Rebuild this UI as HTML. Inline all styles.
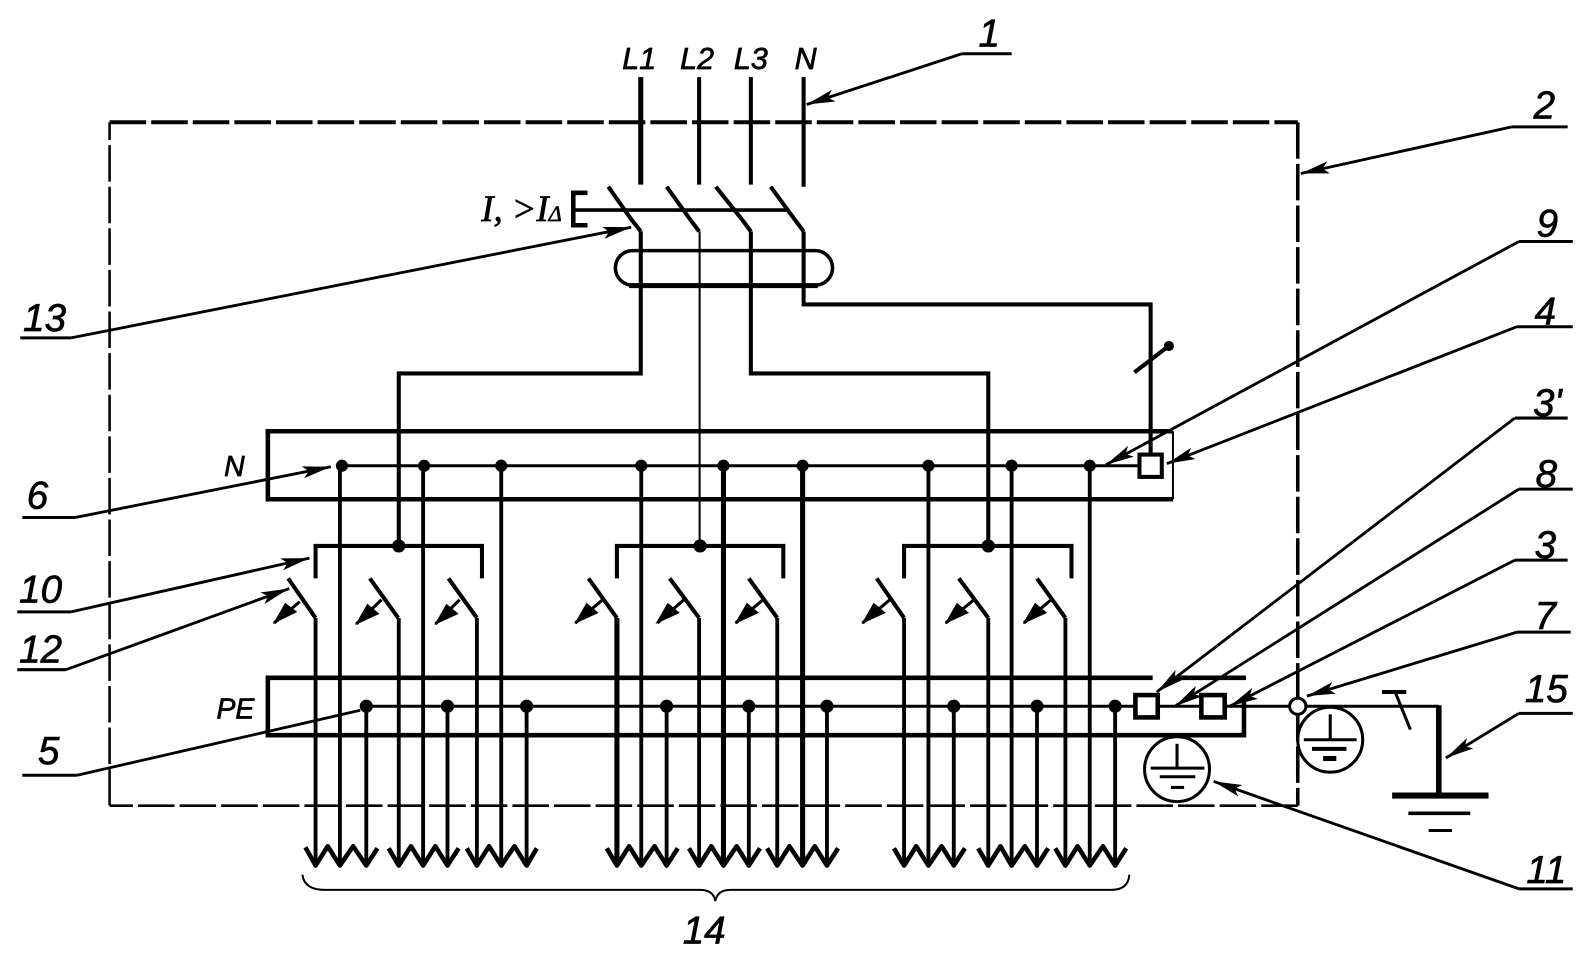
<!DOCTYPE html>
<html><head><meta charset="utf-8"><style>
html,body{margin:0;padding:0;background:#fff}
svg{display:block}
text{font-family:"Liberation Sans",sans-serif;font-style:italic;fill:#000;stroke:#000;stroke-width:.7px;text-anchor:middle}
</style></head><body>
<svg width="1591" height="966" viewBox="0 0 1568 952" preserveAspectRatio="none" xmlns="http://www.w3.org/2000/svg">
<defs><marker id="a" markerUnits="userSpaceOnUse" markerWidth="30" markerHeight="14" refX="28" refY="7" orient="auto"><path d="M0 1L28 7L0 13L6 7Z" fill="#000"/></marker></defs>
<rect width="1568" height="952" fill="#fff"/>
<g fill="none" stroke="#000" stroke-linecap="butt">
<!-- frame -->
<path d="M108 120.5H1279" stroke-width="4" stroke-dasharray="36 5"/>
<path d="M1279 120.5V794" stroke-width="3.5" stroke-dasharray="36 5"/>
<path d="M1279 794H108" stroke-width="2.500" stroke-dasharray="36 5"/>
<path d="M108 794V120.5" stroke-width="2.5" stroke-dasharray="36 5"/>
<!-- feeders -->
<path d="M631.5 76V182" stroke-width="5"/>
<path d="M689 76V182M740 76V182M792 76V184" stroke-width="4"/>
<path d="M599.5 184L622 216L631.5 228M657 184L680 216L689 228M705.500 184L731 216L740 228M759.500 184L783 216L792 228" stroke-width="4"/>
<path d="M579 190H565V222H579" stroke-width="4.500"/>
<path d="M565 207H775" stroke-width="3.500"/>
<path d="M631.500 228V368H393V538M740 228V368H974V538" stroke-width="4"/>
<path d="M689.500 228V538" stroke-width="2"/>
<path d="M792 228V300H1134V448" stroke-width="4"/>
<path d="M1118 367L1153 340" stroke-width="4"/>
<rect x="606.500" y="247" width="214" height="34" rx="17" stroke-width="3.500" />
<path d="M620 281.500H806" stroke-width="5"/>
<!-- busbars -->
<path d="M1156 425H264V492H1156" stroke-width="4.500"/>
<path d="M1156 425V492" stroke-width="2"/>
<path d="M337 459H1123" stroke-width="3"/>
<path d="M1136 668H264V724.500H1226V692M1158 668H1228" stroke-width="4.500"/>
<path d="M361 696H1418" stroke-width="3"/>
<!-- group brackets -->
<path d="M311 570V538H475V570M608 570V538H772V570M891 570V538H1056V570" stroke-width="4"/>
<!-- blades -->
<path d="M284 570L311 609M364.500 570L392.500 609M442 570L470 609M580 570L608 609M660 570L689 609M738 570L766 609M864 570L891 609M945 570L974 609M1022 570L1050 609" stroke-width="4"/>
<!-- outgoing wires -->
<path d="M311 609V850M393 609V850M470 609V850M689 609V850M766 609V850M891 609V850M974 609V850M1050 609V850M335 459V850M417 459V850M494 459V850M632 459V850M915 459V850M997 459V850M1074 459V850M361 696V850M441 696V850M519 696V850M657 696V850M738 696V850M815 696V850M940 696V850M1022 696V850M1099 696V850" stroke-width="3.800"/>
<path d="M608 609V850M713 459V850M791 459V850" stroke-width="5"/>
<!-- arrow tips -->
<path stroke-linejoin="round" d="M301 835L311 853L323 834L335 853L348 834L361 853L372 836M383 836L393 853L405 834L417 853L429 834L441 853L452 836M460 836L470 853L482 834L494 853L507 834L519 853L529 836M598 836L608 853L620 834L632 853L645 834L657 853L668 836M679 836L689 853L701 834L713 853L726 834L738 853L749 836M756 836L766 853L778 834L791 853L803 834L815 853L826 836M881 836L891 853L903 834L915 853L928 834L940 853L951 836M964 836L974 853L986 834L997 853L1010 834L1022 853L1033 836M1040 836L1050 853L1062 834L1074 853L1087 834L1099 853L1110 836" stroke-width="4.500"/>
<!-- bracket -->
<path d="M298 862Q300 877 320 877H690Q703 877 705 888Q707 877 720 877H1095Q1112 877 1113 862" stroke-width="2"/>
<!-- selective operators -->
<path d="M295.500 593L270 614M376 591L351 615M453 591L429 615M594 591L567 614M674 591L648 614M752 591L725 614M877 591L850 614M960 591L932 614M1036 591L1009 614" stroke-width="3"/>
<!-- leaders -->
<path d="M948 53H997M1490 125H1545M1497 238H1550M1495 322H1550M1493 412H1545M1497 482H1550M1493 552H1545M1495 623H1548M1497 703H1550M1497 876H1550M20 333H70M22 510H74M17 603H70M17 660H65M22 764H76" stroke-width="3"/>
<g stroke-width="2.800">
<line x1="948" y1="53" x2="795" y2="103" marker-end="url(#a)"/>
<line x1="1490" y1="125" x2="1282" y2="171" marker-end="url(#a)"/>
<line x1="1497" y1="238" x2="1090" y2="458" marker-end="url(#a)"/>
<line x1="1495" y1="322" x2="1150" y2="457" marker-end="url(#a)"/>
<line x1="1493" y1="412" x2="1140" y2="682" marker-end="url(#a)"/>
<line x1="1497" y1="482" x2="1158" y2="696" marker-end="url(#a)"/>
<line x1="1493" y1="552" x2="1212" y2="696" marker-end="url(#a)"/>
<line x1="1495" y1="623" x2="1288" y2="686" marker-end="url(#a)"/>
<line x1="1497" y1="703" x2="1425" y2="747" marker-end="url(#a)"/>
<line x1="1497" y1="876" x2="1196" y2="770" marker-end="url(#a)"/>
<line x1="70" y1="333" x2="622" y2="224" marker-end="url(#a)"/>
<line x1="74" y1="510" x2="326" y2="460" marker-end="url(#a)"/>
<line x1="70" y1="603" x2="305" y2="550" marker-end="url(#a)"/>
<line x1="65" y1="660" x2="285" y2="580" marker-end="url(#a)"/>
<line x1="76" y1="764" x2="355" y2="700"/>
</g>
<!-- terminals -->
<rect x="1123" y="448" width="22" height="22" fill="#fff" stroke-width="4"/>
<rect x="1119" y="685" width="22" height="22" fill="#fff" stroke-width="4.500"/>
<rect x="1184" y="685" width="23" height="22" fill="#fff" stroke-width="4.500"/>
<!-- earths -->
<circle cx="1311" cy="729" r="32" fill="#fff" stroke-width="3"/>
<path d="M1311 704V729" stroke-width="3"/>
<path d="M1285 729H1337" stroke-width="3"/>
<path d="M1293 738H1327" stroke-width="4"/>
<path d="M1304 747.500H1317" stroke-width="5"/>
<circle cx="1279" cy="696" r="8" fill="#fff" stroke-width="3"/>
<circle cx="1160" cy="758" r="32" fill="#fff" stroke-width="3"/>
<path d="M1160 733V757" stroke-width="3"/>
<path d="M1134 757H1187" stroke-width="3"/>
<path d="M1143 765.500H1178" stroke-width="3"/>
<path d="M1154 776H1167" stroke-width="3"/>
<!-- ground -->
<path d="M1418 695V782" stroke-width="5.500"/>
<path d="M1372 784H1467" stroke-width="6"/>
<path d="M1388 801.500H1449" stroke-width="3.500"/>
<path d="M1408 818.500H1431" stroke-width="3"/>
<path d="M1362 682H1386" stroke-width="4"/>
<path d="M1375 682L1390 719" stroke-width="3"/>
</g>
<!-- solids -->
<g fill="#000">
<circle cx="1152" cy="341" r="5"/>
<circle cx="337" cy="459" r="6"/><circle cx="418" cy="459" r="6"/><circle cx="494" cy="459" r="6"/><circle cx="632" cy="459" r="6"/><circle cx="713" cy="459" r="6"/><circle cx="791" cy="459" r="6"/><circle cx="915" cy="459" r="6"/><circle cx="997" cy="459" r="6"/><circle cx="1074" cy="459" r="6"/>
<circle cx="361" cy="696" r="6.500"/><circle cx="441" cy="696" r="6.500"/><circle cx="519" cy="696" r="6.500"/><circle cx="657" cy="696" r="6.500"/><circle cx="738" cy="696" r="6.500"/><circle cx="815" cy="696" r="6.500"/><circle cx="940" cy="696" r="6.500"/><circle cx="1022" cy="696" r="6.500"/><circle cx="1099" cy="696" r="6.500"/>
<circle cx="393" cy="538" r="6.500"/><circle cx="690" cy="538" r="6.500"/><circle cx="974" cy="538" r="6.500"/>
<path d="M269 615L281 594L293 603ZM350 616L362 595L374 605ZM428 616L440 595L452 605ZM566 615L578 594L590 604ZM646 615L658 594L670 604ZM724 615L736 594L748 604ZM849 615L861 594L873 604ZM931 615L943 594L955 604ZM1008 615L1020 594L1032 604Z"/>
</g>
<!-- labels -->
<g font-size="38">
<text x="975" y="46">1</text><text x="1522" y="117">2</text><text x="1525" y="233">9</text><text x="1523" y="320">4</text>
<text x="1525" y="410">3'</text><text x="1524" y="480">8</text><text x="1523" y="550">3</text><text x="1523" y="620">7</text>
<text x="1524" y="692">15</text><text x="1524" y="870">11</text>
<text x="44" y="326">13</text><text x="37" y="501">6</text><text x="40" y="594">10</text><text x="40" y="653">12</text><text x="48" y="753">5</text>
<text x="694" y="930">14</text>
</g>
<g font-size="30">
<text x="630" y="68">L1</text><text x="687" y="68">L2</text><text x="740" y="68">L3</text><text x="794" y="68">N</text>
<text x="231" y="469" font-size="28">N</text><text x="232" y="708" font-size="28">PE</text>
</g>
<text x="514" y="218" font-size="36" style="font-family:'Liberation Serif',serif">I, &gt;I<tspan font-size="22">Δ</tspan></text>
</svg>
</body></html>
